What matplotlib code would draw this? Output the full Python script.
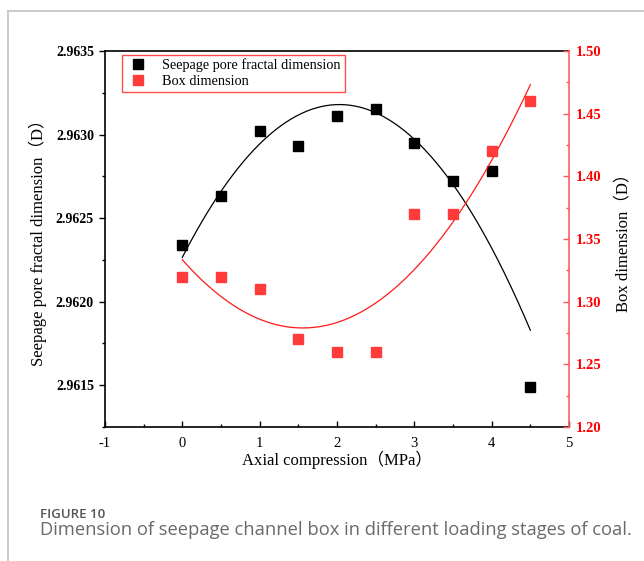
import numpy as np
import matplotlib
matplotlib.use("Agg")
import matplotlib.pyplot as plt
from matplotlib.ticker import MultipleLocator, FormatStrFormatter
from matplotlib.lines import Line2D

plt.rcParams['axes.unicode_minus'] = False

# ---- data ----
pressure = [0, 0.5, 1, 1.5, 2, 2.5, 3, 3.5, 4, 4.5]
seepage_dim = [2.96234, 2.96263, 2.96302, 2.96293, 2.96311, 2.96315, 2.96295, 2.96272, 2.96278, 2.96149]
box_dim = [1.32, 1.32, 1.31, 1.27, 1.26, 1.26, 1.37, 1.37, 1.42, 1.46]
x_ticks = [-1, 0, 1, 2, 3, 4, 5]

serif = ['Liberation Serif', 'Noto Sans CJK SC']

fig = plt.figure(figsize=(6.44, 5.61), dpi=100)
ax = fig.add_axes([105/644, 1-427/561, (569-105)/644, (427-51)/561])
ax2 = ax.twinx()

# fits
xs = np.linspace(min(pressure), max(pressure), 200)
c1 = np.polyfit(pressure, seepage_dim, 2)
c2 = np.polyfit(pressure, box_dim, 2)
ax.plot(xs, np.polyval(c1, xs), color='black', lw=0.9, zorder=2)
ax2.plot(xs, np.polyval(c2, xs), color='#ff1a1a', lw=0.9, zorder=2)

ax.plot(pressure, seepage_dim, 's', color='black', ms=6.5, ls='none', zorder=3)
ax2.plot(pressure, box_dim, 's', color='#ff3b3b', ms=6.5, ls='none', zorder=3)

ax.set_xlim(-1, 5)
ax.set_ylim(2.96125, 2.9635)
ax2.set_ylim(1.20, 1.50)

ax.set_xticks(x_ticks)
ax.xaxis.set_minor_locator(MultipleLocator(0.5))
ax.yaxis.set_major_locator(MultipleLocator(0.0005))
ax.yaxis.set_minor_locator(MultipleLocator(0.00025))
ax.yaxis.set_major_formatter(FormatStrFormatter('%.4f'))
ax2.yaxis.set_major_locator(MultipleLocator(0.05))
ax2.yaxis.set_minor_locator(MultipleLocator(0.025))
ax2.yaxis.set_major_formatter(FormatStrFormatter('%.2f'))

ax.tick_params(axis='x', which='both', direction='in', length=4, pad=7, labelsize=10.5, width=1)
ax.tick_params(axis='x', which='minor', length=2.5)
ax.tick_params(axis='y', which='both', direction='out', length=4, width=1, pad=4)
ax.tick_params(axis='y', which='minor', length=2.5)
ax2.tick_params(axis='y', which='both', direction='in', length=4, width=1, colors='#ff5555', pad=5, labelcolor='#ff0000')
ax2.tick_params(axis='y', which='minor', length=2.5)

for lab in ax.get_xticklabels():
    lab.set_fontfamily(serif)
for lab in ax.get_yticklabels():
    lab.set_fontfamily(serif); lab.set_fontweight('bold'); lab.set_fontsize(10)
for lab in ax2.get_yticklabels():
    lab.set_fontfamily(serif); lab.set_fontweight('bold'); lab.set_fontsize(10.5)

for s in ['left', 'bottom', 'top']:
    ax.spines[s].set_linewidth(1.2)
ax.spines['right'].set_visible(False)
ax2.spines['left'].set_visible(False)
ax2.spines['top'].set_visible(False)
ax2.spines['bottom'].set_visible(False)
ax2.spines['right'].set_color('#ff6060')
ax2.spines['right'].set_linewidth(1.2)

ax.set_xlabel('Axial compression（MPa）', family=serif, fontsize=12, labelpad=1)
ax.set_ylabel('Seepage pore fractal dimension（D）', family=serif, fontsize=12, labelpad=6)
ax2.set_ylabel('Box dimension（D）', family=serif, fontsize=12, labelpad=10)

handles = [Line2D([], [], marker='s', color='black', ls='none', ms=6.5),
           Line2D([], [], marker='s', color='#ff3b3b', ls='none', ms=6.5)]
leg = ax.legend(handles, ['Seepage pore fractal dimension', 'Box dimension'],
                loc='upper left', bbox_to_anchor=(0.036, 0.99), frameon=True, fancybox=False,
                prop={'family': 'Liberation Serif', 'size': 10.3}, borderpad=0.25,
                labelspacing=0.2, handletextpad=0.8, handlelength=1.8, borderaxespad=0)
leg.get_frame().set_edgecolor('#ff2020')
leg.get_frame().set_linewidth(1.0)

# page frame lines
fig.add_artist(Line2D([8/644, 8/644], [0, 1-11/561], color='#c4c4c4', lw=1.2, transform=fig.transFigure))
fig.add_artist(Line2D([8/644, 1], [1-11/561, 1-11/561], color='#c4c4c4', lw=1.2, transform=fig.transFigure))

fig.text(40/644, 1-514/561, 'FIGURE 10', family='Open Sans', fontweight='semibold', fontsize=9.5,
         color='#555555', va='center', ha='left')
fig.text(40/644, 1-530/561, 'Dimension of seepage channel box in different loading stages of coal.',
         family='Open Sans', fontsize=13.2, color='#6a6a6a', va='center', ha='left')

fig.savefig('out.png', dpi=100)
